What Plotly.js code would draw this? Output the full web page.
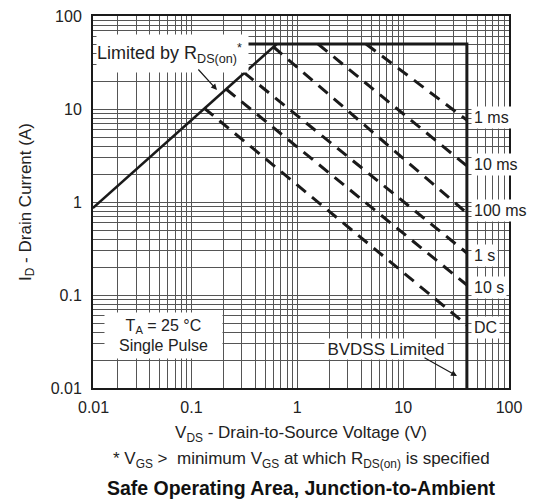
<!DOCTYPE html>
<html><head><meta charset="utf-8">
<script src="https://cdn.plot.ly/plotly-3.0.1.min.js"></script>
<style>html,body{margin:0;padding:0;background:#fff}#chart{width:537px;height:500px}</style>
</head><body><div id="chart"></div>
<script>
// ---- tick / grid data ----
const decadeValues = [0.01, 0.1, 1, 10, 100];
const decadeLabels = ['0.01', '0.1', '1', '10', '100'];
const gridMultipliers = [2, 3, 4, 5, 6, 7, 8, 9];

// ---- limit lines ----
const rdsLimitV = [0.0117, 0.64];
const rdsLimitI = [0.86, 50];
const envelopeV = [0.34, 40, 40];
const envelopeI = [50, 50, 0.01];

// ---- pulse-duration lines ----
const pulseNames  = ['1 ms', '10 ms', '100 ms', '1 s', '10 s', 'DC'];
const pulseStartV = [4.46, 1.57, 0.59, 0.314, 0.212, 0.1315];
const pulseStartI = [50, 50, 47, 24.6, 16.4, 10.25];
const pulseEndV   = [40, 40, 40, 40, 40, 40];
const pulseEndI   = [7.6, 2.44, 0.76, 0.283, 0.128, 0.0475];

// minor grid values (2..9 inside every decade)
const minorVals = [];
decadeValues.slice(0, 4).forEach(d => gridMultipliers.forEach(m => minorVals.push(+(d * m).toPrecision(3))));

const FONT = 'Arial, "Liberation Sans", sans-serif';
const INK = '#1a1a1a';
const traces = [];
traces.push({x: rdsLimitV, y: rdsLimitI, mode: 'lines', line: {color: INK, width: 2.6}, hoverinfo: 'skip'});
traces.push({x: envelopeV, y: envelopeI, mode: 'lines', line: {color: INK, width: 3}, hoverinfo: 'skip'});
pulseNames.forEach((n, i) => {
  traces.push({x: [pulseStartV[i], pulseEndV[i]], y: [pulseStartI[i], pulseEndI[i]], mode: 'lines', name: n,
    line: {color: INK, width: 3, dash: '12px,8px'}, hoverinfo: 'skip'});
});

// pixel helpers for label placement
const plotTop = 16, plotBot = 388, plotLeft = 93, plotRight = 509;
const py = p => (plotBot - p) / (plotBot - plotTop);
const px = p => (p - plotLeft) / (plotRight - plotLeft);
const labelPy = [118, 164, 210, 255, 287, 327];

const annotations = pulseNames.map((n, i) => ({
  xref: 'paper', yref: 'paper', x: px(471), y: py(labelPy[i]), xanchor: 'left', yanchor: 'middle',
  text: n, showarrow: false, bgcolor: '#fff', borderpad: 2, font: {family: FONT, size: 16, color: '#222'}
}));
annotations.push(
  {xref: 'paper', yref: 'paper', x: px(96), y: py(53.5), xanchor: 'left', yanchor: 'middle', showarrow: false,
   width: 151, height: 37, align: 'left', bgcolor: '#fff', borderpad: 0,
   text: 'Limited by R<sub>DS(on)</sub><sup>*</sup>', font: {family: FONT, size: 18, color: '#222'}},
  {xref: 'paper', yref: 'paper', x: px(217), y: py(90), ax: -20, ay: -22, text: '', showarrow: true,
   arrowhead: 2, arrowsize: 1, arrowwidth: 1.2, arrowcolor: INK},
  {xref: 'paper', yref: 'paper', x: px(163.5), y: py(335.5), xanchor: 'center', yanchor: 'middle', showarrow: false,
   width: 117, height: 45, bgcolor: '#fff', borderpad: 0,
   text: 'T<sub>A</sub> = 25 °C<br>Single Pulse', align: 'center', font: {family: FONT, size: 16, color: '#222'}},
  {xref: 'paper', yref: 'paper', x: px(386), y: py(348.5), xanchor: 'center', yanchor: 'middle', showarrow: false,
   width: 122, height: 20, bgcolor: '#fff', borderpad: 0,
   text: 'BVDSS Limited', font: {family: FONT, size: 17, color: '#222'}},
  {xref: 'paper', yref: 'paper', x: px(457), y: py(376), ax: -34, ay: -19, text: '', showarrow: true,
   arrowhead: 2, arrowsize: 1, arrowwidth: 1.2, arrowcolor: INK},
  {xref: 'paper', yref: 'paper', x: 0, y: py(407), xanchor: 'center', yanchor: 'middle', showarrow: false,
   text: decadeLabels[0], font: {family: FONT, size: 16, color: '#222'}},
  {xref: 'paper', yref: 'paper', x: 0.5, y: py(460), xanchor: 'center', yanchor: 'middle', showarrow: false,
   text: '* V<sub>GS</sub> >  minimum V<sub>GS</sub> at which R<sub>DS(on)</sub> is specified', font: {family: FONT, size: 17, color: '#222'}}
);

const axisCommon = {
  type: 'log', showgrid: true, gridcolor: '#555', gridwidth: 1, zeroline: false,
  showline: true, mirror: true, linecolor: INK, linewidth: 2, ticks: '',
  tickmode: 'array', tickvals: decadeValues, ticktext: decadeLabels,
  minor: {tickmode: 'array', tickvals: minorVals, showgrid: true, gridcolor: '#555', gridwidth: 1, ticks: ''},
  tickfont: {family: FONT, size: 16, color: '#222'}
};

const layout = {
  width: 537, height: 500,
  margin: {l: plotLeft, r: 537 - plotRight, t: plotTop, b: 500 - plotBot},
  paper_bgcolor: '#fff', plot_bgcolor: '#fff', showlegend: false,
  font: {family: FONT, color: '#222'},
  title: {text: '<b>Safe Operating Area, Junction-to-Ambient</b>', font: {family: FONT, size: 19.5, color: '#111'},
          xref: 'paper', x: 0.5, xanchor: 'center', yref: 'container', y: 1 - 488 / 500, yanchor: 'middle'},
  xaxis: Object.assign({}, axisCommon, {range: [-1.93, 2], ticklabelstandoff: 4,
    title: {text: 'V<sub>DS</sub> - Drain-to-Source Voltage (V)', font: {family: FONT, size: 17, color: '#222'}, standoff: 11}}),
  yaxis: Object.assign({}, axisCommon, {range: [-2, 2], ticklabelstandoff: 6,
    title: {text: 'I<sub>D</sub> - Drain Current (A)', font: {family: FONT, size: 17, color: '#222'}, standoff: 15}}),
  annotations: annotations
};

Plotly.newPlot('chart', traces, layout, {staticPlot: true, displayModeBar: false});
</script></body></html>
